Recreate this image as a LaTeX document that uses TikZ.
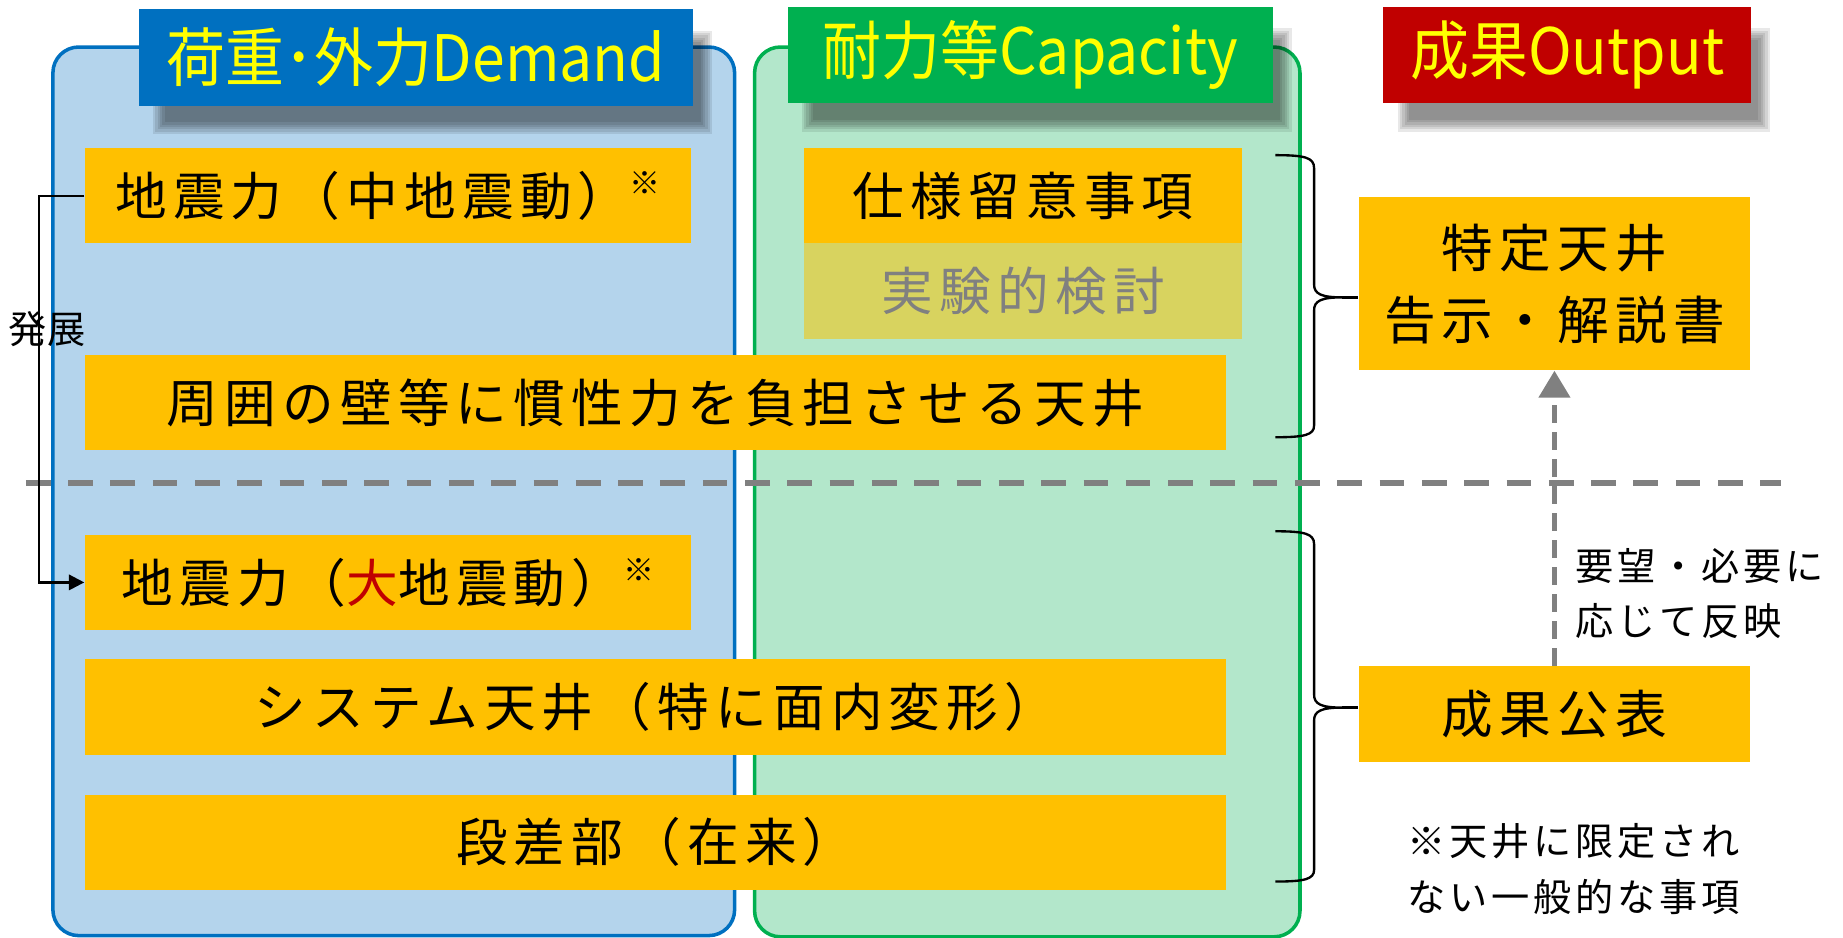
\documentclass[tikz,border=0pt]{standalone}
\usepackage{fontspec}
\setmainfont{Noto Sans CJK JP}
\newfontfamily\jpm[LetterSpace=12]{Noto Sans CJK JP}
\newfontfamily\jps[LetterSpace=10]{Noto Sans CJK JP}
\newfontfamily\jpt{Noto Sans CJK JP}
\usetikzlibrary{arrows.meta,calc}
\definecolor{myorange}{HTML}{FFC000}
\definecolor{myolive}{HTML}{D8D35F}
\definecolor{panelblue}{HTML}{B4D4EC}
\definecolor{borderblue}{HTML}{0070C0}
\definecolor{panelgreen}{HTML}{B3E7CB}
\definecolor{bordergreen}{HTML}{00B050}
\definecolor{titlered}{HTML}{C00000}
\definecolor{midgray}{HTML}{808080}
\definecolor{titleyellow}{HTML}{FFFF00}
\definecolor{redtext}{HTML}{C00000}
\newcommand\kome{\raisebox{.4em}{\fontsize{15}{15}\selectfont ※}}
\newcommand\ttl[1]{\scalebox{0.92}[1]{#1}}
\begin{document}
\begin{tikzpicture}[x=0.02cm,y=-0.02cm,
  panel/.style={rounded corners=0.44cm, line width=0.06cm},
  titlebox/.style={inner sep=0pt, minimum height=1.64cm, text=titleyellow,
    font=\fontsize{31}{34}\selectfont\jpt},
  shadowlayer/.style={fill=black, draw=none, opacity=0.09},
  obox/.style={fill=myorange, draw=none, inner sep=0pt, minimum height=1.62cm,
    text=black, font=\fontsize{25}{35}\selectfont\jpm, align=center},
  note/.style={inner sep=0pt, text=black, align=left,
    font=\fontsize{18.5}{27}\selectfont\jps},
  bracestyle/.style={draw=black, line width=0.04cm},
  sepline/.style={draw=midgray, line width=0.1cm, dash pattern=on 0.42cm off 0.3cm},
  feedback/.style={draw=midgray, line width=0.1cm, dash pattern=on 0.3cm off 0.16cm,
    -{Triangle[width=0.52cm,length=0.46cm]}},
  devline/.style={draw=black, line width=0.04cm, -{Triangle[width=0.26cm,length=0.26cm]}}
]
\useasboundingbox (0,0) rectangle (1568,798);

% panels
\draw[panel, fill=panelblue, draw=borderblue] (45,40) rectangle (625,796);
\draw[panel, fill=panelgreen, draw=bordergreen] (642,40) rectangle (1106,797);

% title shadows (soft)
\foreach \x/\y/\X/\Y in {118/8/590/90, 670/6/1083/88, 1177/6/1490/88}{
  \foreach \d in {0,2,4,6,8,10}{
    \fill[shadowlayer] (\x+12+\d,\y+18+\d) rectangle (\X+16-\d,\Y+24-\d);
  }
}

% titles
\node[titlebox, fill=borderblue, minimum width=9.44cm] (tD) at (354,49) {\ttl{荷重･外力Demand}};
\node[titlebox, fill=bordergreen, minimum width=8.26cm] (tC) at (876.5,47) {\ttl{耐力等Capacity}};
\node[titlebox, fill=titlered, minimum width=6.26cm] (tO) at (1333.5,47) {\ttl{成果Output}};

% separator
\draw[sepline] (22,411) -- (1515,411);

% boxes
\node[obox, minimum width=10.32cm] (A) at (330,166.5) {地震力（中地震動）\kome};
\node[obox, minimum width=7.46cm] (B) at (870.5,166.5) {仕様留意事項};
\node[obox, minimum width=7.46cm, fill=myolive, text=midgray] (C) at (870.5,247.5) {実験的検討};
\node[obox, minimum width=19.42cm] (D) at (557.5,342.5) {周囲の壁等に慣性力を負担させる天井};
\node[obox, minimum width=10.32cm] (E) at (330,495.5) {地震力（\textcolor{redtext}{大}地震動）\kome};
\node[obox, minimum width=19.42cm] (F) at (557.5,601.5) {システム天井（特に面内変形）};
\node[obox, minimum width=19.42cm] (G) at (557.5,716.5) {段差部（在来）};
\node[obox, minimum width=6.66cm, minimum height=2.94cm] (H) at (1322.5,241.5) {特定天井\\告示・解説書};
\node[obox, minimum width=6.66cm] (I) at (1322.5,607.5) {成果公表};

% development connector
\coordinate (devA) at (33,166.5);
\coordinate (devE) at (33,495.5);
\draw[devline] (A.west) -- (devA) -- (devE) -- (E.west);
\node[note, font=\fontsize{18.5}{22}\selectfont\jpt] (dev) at (40,280) {発展};

% braces
\coordinate (tip1) at (1142,253);
\draw[bracestyle] (1085,132) .. controls (1110,132) and (1118,134) .. (1118,143)
  -- (1118,242) .. controls (1118,250) and (1124,253) .. (tip1)
  .. controls (1124,253) and (1118,256) .. (1118,264)
  -- (1118,362) .. controls (1118,370) and (1110,372) .. (1085,372);
\draw[bracestyle] (tip1) -- (tip1 -| H.west);
\coordinate (tip2) at (1142,602);
\draw[bracestyle] (1085,452) .. controls (1110,452) and (1118,454) .. (1118,463)
  -- (1118,591) .. controls (1118,599) and (1124,602) .. (tip2)
  .. controls (1124,602) and (1118,605) .. (1118,613)
  -- (1118,740) .. controls (1118,748) and (1110,750) .. (1085,750);
\draw[bracestyle] (tip2) -- (tip2 -| I.west);

% feedback arrow
\draw[feedback] (I.north) -- (H.south);
\node[note, anchor=north west] (fb) at (1340,466) {要望・必要に\\応じて反映};

% footnote
\node[note, anchor=north west] (fn) at (1197,700) {※天井に限定され\\ない一般的な事項};
\end{tikzpicture}
\end{document}
